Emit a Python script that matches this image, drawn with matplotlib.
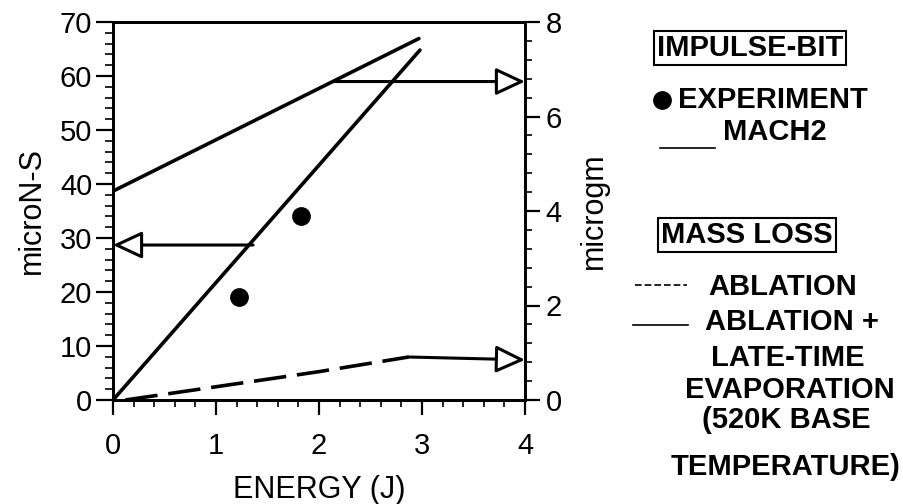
import matplotlib
matplotlib.use("Agg")
import matplotlib.pyplot as plt
from matplotlib.lines import Line2D
from matplotlib.ticker import MultipleLocator

# impulse bit (microN-S, left axis)
exp_energy = [1.22, 1.83]
exp_impulse = [19.0, 34.1]
mach2_energy = [0.0, 2.98]
mach2_impulse = [0.0, 64.8]
impulse_arrow_x = [1.36, 0.0]
impulse_arrow_y = [28.7, 28.7]

# mass loss (microgm, right axis)
late_energy = [0.0, 2.97]
late_mass = [4.42, 7.65]
late_arrow_x = [2.14, 4.0]
late_arrow_y = [6.74, 6.74]
abl_energy = [0.12, 1.0, 2.0, 2.87]
abl_mass = [0.0, 0.28, 0.6, 0.91]
abl_arrow_x = [2.87, 4.0]
abl_arrow_y = [0.91, 0.85]

plt.rcParams['font.family'] = ['Liberation Sans', 'DejaVu Sans']
W, H = 904, 504


def fx(px):
    return px / W


def fy(py):
    return 1 - py / H


def arrow(ax, xs, ys):
    ax.annotate('', xy=(xs[1], ys[1]), xytext=(xs[0], ys[0]),
                arrowprops=dict(arrowstyle='-|>,head_length=0.9,head_width=0.42',
                                mutation_scale=20, fc='white', ec='black', lw=2.2,
                                shrinkA=0, shrinkB=0),
                annotation_clip=False, zorder=6)


def main(lw=2.6, fs_tick=21, fs_lab=22, fs_leg=21):
    fig = plt.figure(figsize=(W / 100, H / 100), dpi=100)
    ax = fig.add_axes([fx(113), fy(400), 412 / W, 378 / H])
    ax2 = ax.twinx()

    ax.set_xlim(0, 4)
    ax.set_ylim(0, 70)
    ax2.set_ylim(0, 8)

    ax.plot(mach2_energy, mach2_impulse, color='black', lw=lw, solid_capstyle='round')
    ax.plot(exp_energy, exp_impulse, 'o', color='black', ms=12.5)
    arrow(ax, impulse_arrow_x, impulse_arrow_y)

    ax2.plot(late_energy, late_mass, color='black', lw=lw, solid_capstyle='round')
    arrow(ax2, late_arrow_x, late_arrow_y)
    ax2.plot(abl_energy, abl_mass, color='black', lw=lw, dashes=(9, 3))
    arrow(ax2, abl_arrow_x, abl_arrow_y)

    ax.xaxis.set_major_locator(MultipleLocator(1))
    ax.xaxis.set_minor_locator(MultipleLocator(0.2))
    ax.yaxis.set_major_locator(MultipleLocator(10))
    ax.yaxis.set_minor_locator(MultipleLocator(2))
    ax2.yaxis.set_major_locator(MultipleLocator(2))
    ax2.yaxis.set_minor_locator(MultipleLocator(0.4))

    ax.tick_params(axis='x', which='major', length=11, width=1.6, pad=12, labelsize=fs_tick)
    ax.tick_params(axis='x', which='minor', length=5, width=1.2)
    ax.tick_params(axis='y', which='major', length=12, width=1.6, pad=3, labelsize=fs_tick)
    ax.tick_params(axis='y', which='minor', length=6, width=1.2)
    ax2.tick_params(axis='y', which='major', length=11, width=1.6, pad=4, labelsize=fs_tick)
    ax2.tick_params(axis='y', which='minor', length=5, width=1.2)

    for a in (ax, ax2):
        for s in a.spines.values():
            s.set_linewidth(2.0)

    ax.set_xlabel('ENERGY (J)', fontsize=fs_lab, labelpad=11)
    ax.set_ylabel('microN-S', fontsize=fs_lab, labelpad=9)
    ax2.set_ylabel('microgm', fontsize=fs_lab, labelpad=12)

    box = dict(boxstyle='square,pad=0.1', fc='white', ec='black', lw=1.5)
    kw = dict(fontsize=fs_leg, fontweight='bold')
    fig.text(fx(750), fy(48), 'IMPULSE-BIT', ha='center', va='center', bbox=box, **kw)
    fig.add_artist(Line2D([fx(662)], [fy(100)], marker='o', color='black', ms=12.5))
    fig.text(fx(678), fy(100), 'EXPERIMENT', ha='left', va='center', **kw)
    fig.add_artist(Line2D([fx(660), fx(715)], [fy(148), fy(148)], color='black', lw=1.2))
    fig.text(fx(723), fy(132), 'MACH2', ha='left', va='center', **kw)

    fig.text(fx(747), fy(235), 'MASS LOSS', ha='center', va='center', bbox=box, **kw)
    fig.add_artist(Line2D([fx(635), fx(687)], [fy(285), fy(285)], color='black', lw=1.2,
                          dashes=(4, 1.8)))
    fig.text(fx(708), fy(287), 'ABLATION', ha='left', va='center', **kw)
    fig.add_artist(Line2D([fx(633), fx(688)], [fy(325), fy(325)], color='black', lw=1.2))
    fig.text(fx(705), fy(322), 'ABLATION +', ha='left', va='center', **kw)
    fig.text(fx(788), fy(358), 'LATE-TIME', ha='center', va='center', **kw)
    fig.text(fx(790), fy(390), 'EVAPORATION', ha='center', va='center', **kw)
    fig.text(fx(786), fy(420), '(520K BASE', ha='center', va='center', **kw)
    fig.text(fx(786), fy(467), 'TEMPERATURE)', ha='center', va='center', **kw)

    fig.savefig('out.png', dpi=100)
    return 0


if __name__ == "__main__":
    main()
